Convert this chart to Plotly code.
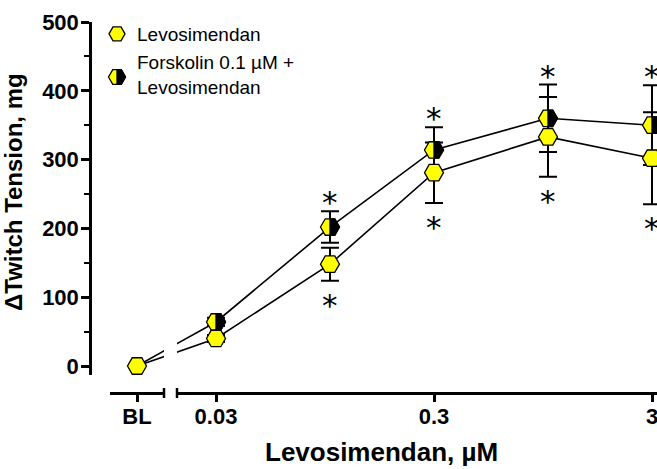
import math
import plotly.graph_objects as go

# ---------------- data ----------------
conc = [0.03, 0.1, 0.3, 1, 3]                 # Levosimendan, µM
levo_mean = [40, 148, 281, 333, 302]          # Levosimendan alone
levo_sem = [5, 24, 44, 58, 67]
forsk_mean = [64, 202, 314, 360, 350]         # Forskolin 0.1 µM + Levosimendan
forsk_sem = [6, 23, 33, 49, 58]
bl_value = 0                                  # baseline
bl_label = "BL"
y_ticks = [0, 100, 200, 300, 400, 500]
x_ticks = [0.03, 0.3, 3]
x_ticktext = ["0.03", "0.3", "3"]
sig_above = [0.1, 0.3, 1, 3]                  # asterisks above forskolin series
sig_below = [0.1, 0.3, 1, 3]                  # asterisks below levosimendan series
name_levo = "Levosimendan"
name_forsk = "Forskolin 0.1 µM +<br>Levosimendan"

# ---------------- geometry (pixels) ----------------
W, H = 657, 469
Y_TOP_PX, Y_ZERO_PX, Y_BOT_PX = 22, 366, 375
YAX_X_PX = 90
XAX_Y_PX = 393
BL_X0, BL_X1 = 110, 164
LOG_X0 = 177
X_FIRST_PX, DEC_PX = 216, 218
LEG_X_PX, LEG_Y_PX = 97, 15
LEG_MARK_X, LEG_MARK_Y = 117, 77

YELLOW = "#ffff00"
FONT = "Liberation Sans, Arial, Helvetica, sans-serif"
MSIZE = 19

ppu = (Y_ZERO_PX - Y_TOP_PX) / max(y_ticks)
y_range = [-(Y_BOT_PX - Y_ZERO_PX) / ppu, max(y_ticks)]
y_domain = [(H - Y_BOT_PX) / H, (H - Y_TOP_PX) / H]

bl_center_px = (BL_X0 + BL_X1) / 2
bl_ppu = (BL_X1 - BL_X0) / 2
lg0 = math.log10(conc[0])
x2_range = [lg0 - (X_FIRST_PX - LOG_X0) / DEC_PX, lg0 + (W - X_FIRST_PX) / DEC_PX]

# virtual continuation points for the broken connecting line
first_on_bl = (X_FIRST_PX - bl_center_px) / bl_ppu
bl_on_log = 10 ** (lg0 - (X_FIRST_PX - bl_center_px) / DEC_PX)

fig = go.Figure()

# error bars (drawn under everything)
for mean, sem in [(forsk_mean, forsk_sem), (levo_mean, levo_sem)]:
    fig.add_trace(go.Scatter(
        x=conc, y=mean, mode="markers", xaxis="x2", yaxis="y",
        marker=dict(size=1, color="rgba(0,0,0,0)"),
        error_y=dict(type="data", array=sem, visible=True, color="black",
                     thickness=2, width=9),
        showlegend=False, hoverinfo="skip"))

# connecting lines
for mean in [forsk_mean, levo_mean]:
    fig.add_trace(go.Scatter(
        x=[0, first_on_bl], y=[bl_value, mean[0]], mode="lines",
        xaxis="x", yaxis="y", line=dict(color="black", width=1.6),
        showlegend=False, hoverinfo="skip"))
    fig.add_trace(go.Scatter(
        x=[bl_on_log] + conc, y=[bl_value] + mean, mode="lines",
        xaxis="x2", yaxis="y", line=dict(color="black", width=1.6),
        showlegend=False, hoverinfo="skip"))

mk = dict(symbol="hexagon2", size=MSIZE, color=YELLOW,
          line=dict(color="black", width=1.3))

fig.add_trace(go.Scatter(
    x=conc, y=forsk_mean, mode="markers", xaxis="x2", yaxis="y",
    marker=mk, showlegend=False))
fig.add_trace(go.Scatter(
    x=conc, y=levo_mean, mode="markers", xaxis="x2", yaxis="y",
    marker=mk, name=name_levo, legendrank=1))
fig.add_trace(go.Scatter(
    x=[0], y=[bl_value], mode="markers", xaxis="x", yaxis="y",
    marker=mk, showlegend=False))
# legend entry for the forskolin series (its symbol is drawn as shapes below)
fig.add_trace(go.Scatter(
    x=[None], y=[None], mode="markers", xaxis="x2", yaxis="y",
    marker=dict(symbol="hexagon2", size=MSIZE, color="rgba(0,0,0,0)",
                line=dict(width=0)),
    name=name_forsk, legendrank=2))


def hex_path(rad, half=False):
    hh = rad * math.sqrt(3) / 2
    if half:
        return (f"M0,{-hh:.2f} L{rad/2:.2f},{-hh:.2f} L{rad:.2f},0 "
                f"L{rad/2:.2f},{hh:.2f} L0,{hh:.2f} Z")
    return (f"M{-rad:.2f},0 L{-rad/2:.2f},{-hh:.2f} L{rad/2:.2f},{-hh:.2f} "
            f"L{rad:.2f},0 L{rad/2:.2f},{hh:.2f} L{-rad/2:.2f},{hh:.2f} Z")


shapes = []
# black right half of the forskolin markers
for c, v in zip(conc, forsk_mean):
    shapes.append(dict(type="path", xref="x2", yref="y", xsizemode="pixel",
                       ysizemode="pixel", xanchor=c, yanchor=v,
                       path=hex_path(MSIZE / 2, half=True),
                       fillcolor="black", line=dict(color="black", width=1.3),
                       layer="above"))
# legend symbol for forskolin series
rl = 8.5
for half, fill in [(False, YELLOW), (True, "black")]:
    shapes.append(dict(type="path", xref="paper", yref="paper", xsizemode="pixel",
                       ysizemode="pixel", xanchor=LEG_MARK_X / W,
                       yanchor=(H - LEG_MARK_Y) / H, path=hex_path(rl, half),
                       fillcolor=fill, line=dict(color="black", width=1.3),
                       layer="above"))

# axis break caps
cap_y0, cap_y1 = (H - (XAX_Y_PX - 5)) / H, (H - (XAX_Y_PX + 5)) / H
for px in [BL_X1, LOG_X0]:
    shapes.append(dict(type="line", xref="paper", yref="paper",
                       x0=px / W, x1=px / W, y0=cap_y0, y1=cap_y1,
                       line=dict(color="black", width=2.5)))

# asterisks
annotations = []
afont = dict(family="DejaVu Sans", size=31, color="black")
for c in sig_above:
    i = conc.index(c)
    annotations.append(dict(x=math.log10(c), y=forsk_mean[i] + forsk_sem[i],
                            xref="x2", yref="y", text="*", showarrow=False,
                            xanchor="center", yanchor="middle",
                            yshift=9, font=afont))
for c in sig_below:
    i = conc.index(c)
    annotations.append(dict(x=math.log10(c), y=levo_mean[i] - levo_sem[i],
                            xref="x2", yref="y", text="*", showarrow=False,
                            xanchor="center", yanchor="middle",
                            yshift=-24, font=afont))

# axis titles
annotations.append(dict(x=381 / W, y=(H - 452) / H, xref="paper", yref="paper",
                        text="<b>Levosimendan, µM</b>", showarrow=False,
                        xanchor="center", yanchor="middle",
                        font=dict(family=FONT, size=26, color="black")))
annotations.append(dict(x=13 / W, y=(H - 192) / H, xref="paper", yref="paper",
                        text="<b>ΔTwitch Tension, mg</b>", showarrow=False, textangle=-90,
                        xanchor="center", yanchor="middle",
                        font=dict(family=FONT, size=24, color="black")))

tickfont = dict(family=FONT, size=22, color="black", weight="bold")

fig.update_layout(
    width=W, height=H,
    margin=dict(l=0, r=0, t=0, b=0, pad=0, autoexpand=False),
    plot_bgcolor="white", paper_bgcolor="white",
    xaxis=dict(domain=[BL_X0 / W, BL_X1 / W], range=[-1, 1], anchor="free",
               position=(H - XAX_Y_PX) / H, tickvals=[0], ticktext=[bl_label],
               ticks="outside", ticklen=7, tickwidth=2.5, tickcolor="black",
               ticklabelstandoff=-4,
               showline=True, linecolor="black", linewidth=2.5, automargin=False,
               showgrid=False, zeroline=False, tickfont=tickfont),
    xaxis2=dict(domain=[LOG_X0 / W, 1], type="log", range=x2_range, anchor="free",
                position=(H - XAX_Y_PX) / H, tickvals=x_ticks, ticktext=x_ticktext,
                ticks="outside", ticklen=7, tickwidth=2.5, tickcolor="black",
                ticklabelstandoff=-4, ticklabeloverflow="allow",
                showline=True, linecolor="black", linewidth=2.5, automargin=False,
                showgrid=False, zeroline=False, tickfont=tickfont),
    yaxis=dict(domain=y_domain, range=y_range, anchor="free", position=YAX_X_PX / W,
               tickvals=y_ticks, ticks="outside", ticklen=8, tickwidth=2.5,
               tickcolor="black", showline=True, linecolor="black", linewidth=2.5,
               ticklabelstandoff=-2,
               showgrid=False, zeroline=False, tickfont=tickfont, automargin=False,
               minor=dict(dtick=50, ticks="outside", ticklen=5, tickwidth=2,
                          tickcolor="black", showgrid=False)),
    legend=dict(x=LEG_X_PX / W, y=(H - LEG_Y_PX) / H, xanchor="left", yanchor="top",
                bgcolor="rgba(0,0,0,0)", font=dict(family=FONT, size=19, color="black"),
                itemclick=False),
    shapes=shapes,
    annotations=annotations,
    showlegend=True,
)

fig.write_html("out.html", config={"displayModeBar": False},
               post_script="document.body.style.margin='0px';")
